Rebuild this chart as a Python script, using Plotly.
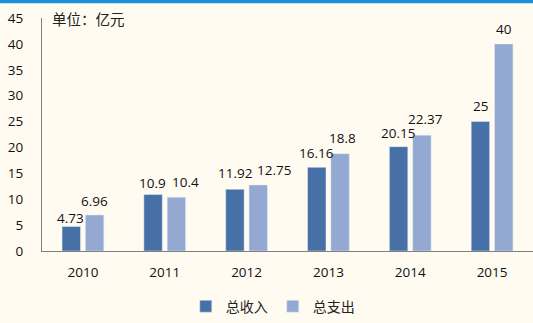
import plotly.graph_objects as go

years = ["2010", "2011", "2012", "2013", "2014", "2015"]
income = [4.73, 10.9, 11.92, 16.16, 20.15, 25]
expense = [6.96, 10.4, 12.75, 18.8, 22.37, 40]
income_labels = ["4.73", "10.9", "11.92", "16.16", "20.15", "25"]
expense_labels = ["6.96", "10.4", "12.75", "18.8", "22.37", "40"]
yticks = [0, 5, 10, 15, 20, 25, 30, 35, 40, 45]

# label nudges (pixels) to avoid overlaps, as in the original
income_dy = [9, 12, 16, 14, 14, 16]
expense_dy = [14, 15, 15, 16, 16, 15]
expense_dx = [0, 9, 15, 2, 3, 0]

font_lat = "Open Sans, Noto Sans CJK SC, sans-serif"
BAR_OFF = 12

fig = go.Figure()
fig.add_trace(go.Bar(x=years, y=income, name="总收入", marker_color="#4670A6"))
fig.add_trace(go.Bar(x=years, y=expense, name="总支出", marker_color="#93A9D2"))

annotations = []
for i, (v, t, dy) in enumerate(zip(income, income_labels, income_dy)):
    annotations.append(dict(x=i, y=v, text=t, showarrow=False, xshift=-BAR_OFF,
                            yshift=dy, yanchor="middle", xanchor="center",
                            font=dict(size=13.5, color="#111")))
for i, (v, t, dy, dx) in enumerate(zip(expense, expense_labels, expense_dy, expense_dx)):
    annotations.append(dict(x=i, y=v, text=t, showarrow=False, xshift=BAR_OFF + dx,
                            yshift=dy, yanchor="middle", xanchor="center",
                            font=dict(size=13.5, color="#111")))
annotations.append(dict(text="单位：亿元", xref="paper", yref="paper", x=0.016, y=1.0,
                        xanchor="left", yanchor="middle", showarrow=False,
                        font=dict(family="Noto Sans CJK SC", size=14.5, color="#222")))

fig.update_layout(
    width=533, height=323,
    margin=dict(l=42, r=0, t=18, b=67),
    paper_bgcolor="#FFFBF1", plot_bgcolor="#FFFBF1",
    barmode="group", bargap=0.43, bargroupgap=0.21,
    font=dict(family=font_lat, size=13.5, color="#111"),
    showlegend=True,
    legend=dict(orientation="h", x=0.47, xanchor="center", y=-0.17, yanchor="top",
                font=dict(family="Noto Sans CJK SC", size=14, color="#222"),
                itemwidth=30, bgcolor="rgba(0,0,0,0)"),
    xaxis=dict(type="category", range=[-0.5, len(years) - 0.5], showline=True,
               linecolor="#808080", linewidth=1.2, ticks="", ticklabelstandoff=9),
    yaxis=dict(range=[0, 45], tickvals=yticks, showgrid=False, zeroline=False,
               showline=True, linecolor="#808080", linewidth=1.2, ticks="",
               ticklabelstandoff=15),
    annotations=annotations,
    shapes=[dict(type="rect", xref="paper", yref="paper", x0=-0.1, x1=1.01,
                 y0=1 + 15/238, y1=1 + 18.5/238, fillcolor="#1A90D6", line_width=0)],
)

fig.write_html("out.html")
